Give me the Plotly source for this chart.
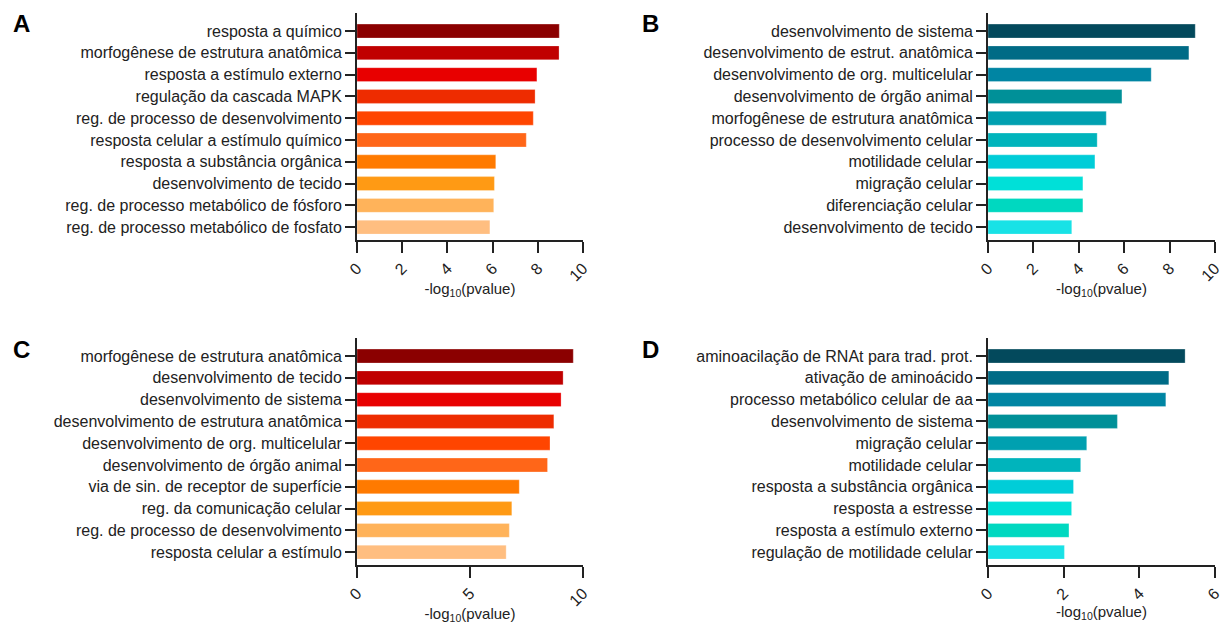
import plotly.graph_objects as go

# ---- data ----
cats_a = ["resposta a químico", "morfogênese de estrutura anatômica", "resposta a estímulo externo",
          "regulação da cascada MAPK", "reg. de processo de desenvolvimento",
          "resposta celular a estímulo químico", "resposta a substância orgânica",
          "desenvolvimento de tecido", "reg. de processo metabólico de fósforo",
          "reg. de processo metabólico de fosfato"]
vals_a = [8.95, 8.94, 7.96, 7.88, 7.80, 7.49, 6.14, 6.08, 6.05, 5.88]

cats_b = ["desenvolvimento de sistema", "desenvolvimento de estrut. anatômica",
          "desenvolvimento de org. multicelular", "desenvolvimento de órgão animal",
          "morfogênese de estrutura anatômica", "processo de desenvolvimento celular",
          "motilidade celular", "migração celular", "diferenciação celular",
          "desenvolvimento de tecido"]
vals_b = [9.13, 8.85, 7.19, 5.90, 5.21, 4.81, 4.71, 4.18, 4.18, 3.69]

cats_c = ["morfogênese de estrutura anatômica", "desenvolvimento de tecido",
          "desenvolvimento de sistema", "desenvolvimento de estrutura anatômica",
          "desenvolvimento de org. multicelular", "desenvolvimento de órgão animal",
          "via de sin. de receptor de superfície", "reg. da comunicação celular",
          "reg. de processo de desenvolvimento", "resposta celular a estímulo"]
vals_c = [9.57, 9.12, 9.03, 8.71, 8.54, 8.43, 7.18, 6.85, 6.74, 6.60]

cats_d = ["aminoacilação de RNAt para trad. prot.", "ativação de aminoácido",
          "processo metabólico celular de aa", "desenvolvimento de sistema",
          "migração celular", "motilidade celular", "resposta a substância orgânica",
          "resposta a estresse", "resposta a estímulo externo",
          "regulação de motilidade celular"]
vals_d = [5.21, 4.78, 4.70, 3.42, 2.61, 2.45, 2.26, 2.21, 2.14, 2.02]

reds = ["#8B0000", "#C00000", "#E80000", "#EE2C00", "#FF4500",
        "#FF6618", "#FF7A00", "#FF9A14", "#FFB35A", "#FFBE80"]
teals = ["#03495C", "#006B86", "#0085A3", "#009098", "#00A0B0",
         "#00B4BC", "#00CDD8", "#00E0D8", "#00D8C0", "#18E2E6"]

x_ticks_a = [0, 2, 4, 6, 8, 10]
x_ticks_b = [0, 2, 4, 6, 8, 10]
x_ticks_c = [0, 5, 10]
x_ticks_d = [0, 2, 4, 6]

panels = [
    ("A", cats_a, vals_a, reds, x_ticks_a, [357, 583], [13, 240]),
    ("B", cats_b, vals_b, teals, x_ticks_b, [988, 1215], [13, 240]),
    ("C", cats_c, vals_c, reds, x_ticks_c, [357, 583], [338, 565]),
    ("D", cats_d, vals_d, teals, x_ticks_d, [988, 1215], [338, 565]),
]

W, H = 1223, 624
FONT = "Liberation Sans, Arial, sans-serif"
TXT = "#222222"

fig = go.Figure()
layout = dict(
    width=W, height=H, autosize=False,
    margin=dict(l=0, r=0, t=0, b=0, pad=0),
    paper_bgcolor="white", plot_bgcolor="white",
    showlegend=False, bargap=0.36,
    font=dict(family=FONT, size=16, color=TXT),
)

annotations = []
letter_pos = {"A": (11, 24), "B": (640, 24), "C": (11, 349), "D": (640, 349)}

for i, (letter, cats, vals, cols, ticks, xpx, ypx) in enumerate(panels):
    sfx = "" if i == 0 else str(i + 1)
    fig.add_trace(go.Bar(
        x=vals, y=cats, orientation="h",
        marker=dict(color=cols, line=dict(color="rgba(255,255,255,0.35)", width=0.8)),
        xaxis="x" + sfx, yaxis="y" + sfx,
    ))
    layout["xaxis" + sfx] = dict(
        domain=[xpx[0] / W, xpx[1] / W], anchor="y" + sfx, automargin=False,
        range=[0, ticks[-1]], tickvals=ticks, ticktext=[str(t) for t in ticks],
        tickangle=-45, ticks="outside", ticklen=11, tickwidth=1.6, tickcolor=TXT,
        showline=True, linecolor=TXT, linewidth=1.8, showgrid=False, zeroline=False,
        tickfont=dict(size=16, color=TXT, family=FONT),
        title=dict(text="-log<sub>10</sub>(pvalue)", font=dict(size=15, color=TXT, family=FONT),
                   standoff=0),
    )
    layout["yaxis" + sfx] = dict(
        domain=[1 - ypx[1] / H, 1 - ypx[0] / H], anchor="x" + sfx, automargin=False,
        type="category", categoryorder="array", categoryarray=cats,
        range=[9.59, -0.83],
        ticks="outside", ticklen=10, tickwidth=1.6, tickcolor=TXT,
        showline=True, linecolor=TXT, linewidth=1.8, showgrid=False, zeroline=False,
        tickfont=dict(size=16, color=TXT, family=FONT),
    )
    lx, ly = letter_pos[letter]
    annotations.append(dict(
        text="<b>%s</b>" % letter, x=lx / W, y=1 - ly / H, xref="paper", yref="paper",
        xanchor="left", yanchor="middle", showarrow=False,
        font=dict(size=24, color="black", family=FONT),
    ))

layout["annotations"] = annotations
fig.update_layout(**layout)
fig.write_html("out.html", config={"displayModeBar": False},
               post_script="document.body.style.margin='0';document.body.style.padding='0';")
